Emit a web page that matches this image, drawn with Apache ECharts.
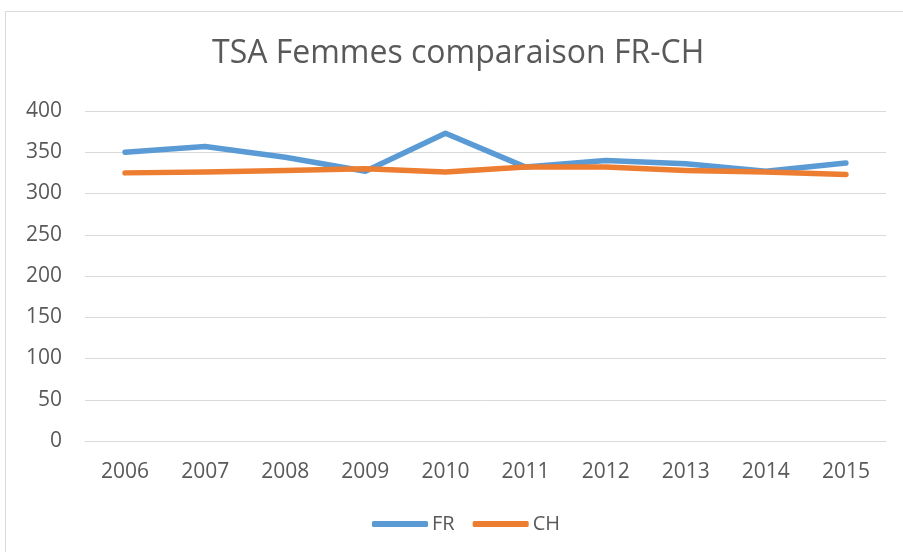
<!DOCTYPE html>
<html><head><meta charset="utf-8">
<script src="https://cdn.jsdelivr.net/npm/echarts@6/dist/echarts.min.js"></script>
<style>html,body{margin:0;padding:0;background:#fff}#c{width:903px;height:552px}</style>
</head><body><div id="c"></div>
<script>
const years = ['2006','2007','2008','2009','2010','2011','2012','2013','2014','2015'];
const fr = [350, 357, 344, 327, 373, 332, 340, 336, 327, 337];
const ch = [325, 326, 328, 330, 326, 332, 332, 328, 326, 323];
const yTicks = {min: 0, max: 400, interval: 50};

const chart = echarts.init(document.getElementById('c'));
const font = '"Open Sans", sans-serif';
chart.setOption({
  animation: false,
  backgroundColor: '#fff',
  graphic: [{type: 'rect', shape: {x: 5.5, y: 11.5, width: 920, height: 560}, style: {fill: 'none', stroke: '#D9D9D9', lineWidth: 1}}],
  title: {text: 'TSA Femmes comparaison FR-CH', left: 212, top: 38, padding: 0,
    textStyle: {fontFamily: font, fontSize: 32, fontWeight: 'normal', color: '#595959'}},
  legend: {top: 514, left: 372, padding: 0, itemWidth: 56, itemHeight: 6, itemGap: 18,
    icon: 'roundRect',
    textStyle: {fontFamily: font, fontSize: 20, color: '#595959', padding: [0,0,0,-1]},
    data: ['FR','CH']},
  grid: {left: 85, right: 17, top: 111, bottom: 111},
  xAxis: {type: 'category', data: years, boundaryGap: true,
    axisLine: {lineStyle: {color: '#D9D9D9', width: 1}},
    axisTick: {show: false},
    axisLabel: {fontFamily: font, fontSize: 21, color: '#595959', margin: 21}},
  yAxis: {type: 'value', min: yTicks.min, max: yTicks.max, interval: yTicks.interval,
    axisLine: {show: false}, axisTick: {show: false},
    splitLine: {lineStyle: {color: '#D9D9D9', width: 1}},
    axisLabel: {fontFamily: font, fontSize: 21, color: '#595959', margin: 23}},
  series: [
    {name: 'FR', type: 'line', data: fr, symbol: 'none', lineStyle: {width: 5.5, color: '#5B9BD5', cap: 'round', join: 'round'}, itemStyle: {color: '#5B9BD5'}},
    {name: 'CH', type: 'line', data: ch, symbol: 'none', lineStyle: {width: 5.5, color: '#ED7D31', cap: 'round', join: 'round'}, itemStyle: {color: '#ED7D31'}}
  ]
});
</script></body></html>
